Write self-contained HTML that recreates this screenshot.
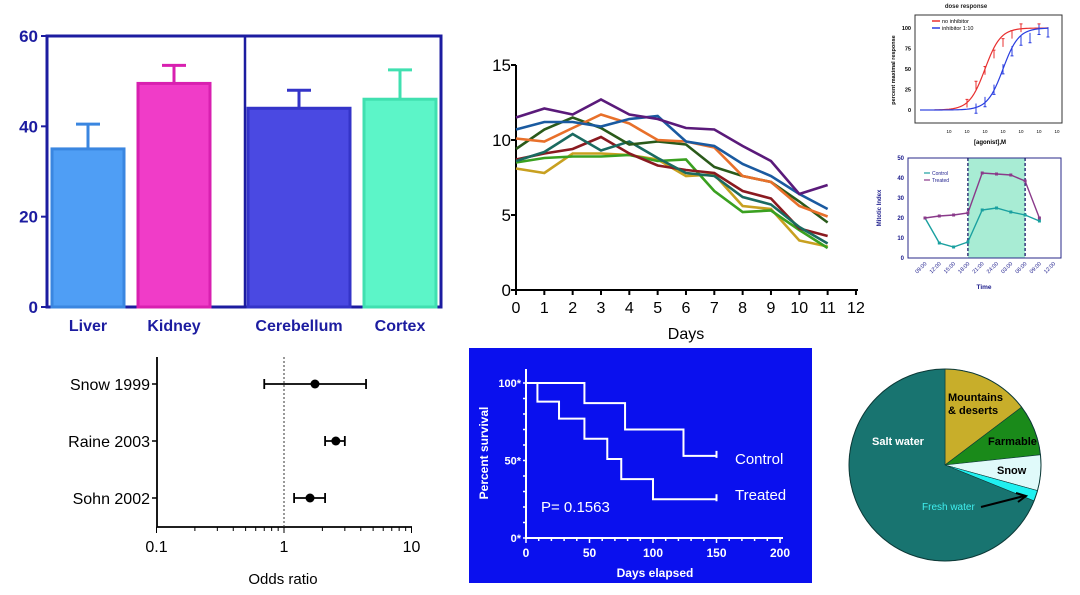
<!DOCTYPE html>
<html><head><meta charset="utf-8"><style>
html,body{margin:0;padding:0;background:#fff;}
svg{display:block;font-family:"Liberation Sans",Arial,sans-serif;}
</style></head><body>
<svg id="s" width="1080" height="595" viewBox="0 0 1080 595">
<rect width="1080" height="595" fill="#fff"/>

<g id="bar">
<rect x="47" y="36" width="394" height="271" fill="none" stroke="#1c1ca0" stroke-width="3"/>
<line x1="245" y1="36" x2="245" y2="307" stroke="#1c1ca0" stroke-width="2.5"/>
</g>

<g id="line">
<text x="686" y="339" font-size="16" text-anchor="middle">Days</text>
</g>

<g id="dose">
<text x="966" y="8" font-size="6" font-weight="bold" text-anchor="middle" fill="#222">dose response</text>
<rect x="915" y="15" width="147" height="108" fill="none" stroke="#333" stroke-width="1"/>
<text x="895" y="70" font-size="5.5" font-weight="bold" text-anchor="middle" transform="rotate(-90 895 70)">percent maximal response</text>
<text x="990" y="144" font-size="6" font-weight="bold" text-anchor="middle">[agonist],M</text>
<line x1="932" y1="21" x2="940" y2="21" stroke="#e83030" stroke-width="1.5"/>
<text x="942" y="23" font-size="5.5">no inhibitor</text>
<line x1="932" y1="28" x2="940" y2="28" stroke="#2a3ee0" stroke-width="1.5"/>
<text x="942" y="30" font-size="5.5">inhibitor 1:10</text>
</g>

<g id="mito">
<text x="881" y="208" font-size="6" font-weight="bold" fill="#1c1c8c" text-anchor="middle" transform="rotate(-90 881 208)">Mitotic Index</text>
<text x="984" y="289" font-size="6.5" font-weight="bold" fill="#1c1c8c" text-anchor="middle">Time</text>
</g>

<g id="forest">
<text x="283" y="584" font-size="15" text-anchor="middle">Odds ratio</text>
</g>

<g id="surv">
<rect x="469" y="348" width="343" height="235" fill="#0a10ee"/>
<text x="488" y="453" font-size="12" font-weight="bold" fill="#fff" text-anchor="middle" transform="rotate(-90 488 453)">Percent survival</text>
<text x="655" y="577" font-size="12" font-weight="bold" fill="#fff" text-anchor="middle">Days elapsed</text>
<text x="735" y="464" font-size="15" fill="#fff">Control</text>
<text x="735" y="500" font-size="15" fill="#fff">Treated</text>
<text x="541" y="512" font-size="15" fill="#fff">P= 0.1563</text>
</g>

<g id="pie"></g>
</svg>
<script>
const barCats=["Liver","Kidney","Cerebellum","Cortex"];
const barVals=[35,49.5,44,46];
const barErr=[5.5,4,4,6.5];
const barTicks=[0,20,40,60];

const lineDays=[0,1,2,3,4,5,6,7,8,9,10,11];
const lineTicksX=[0,1,2,3,4,5,6,7,8,9,10,11,12];
const lineTicksY=[0,5,10,15];
const sPurple=[11.5,12.1,11.7,12.7,11.7,11.4,10.8,10.7,9.6,8.6,6.4,7.0];
const sBlue=[10.7,11.2,11.2,10.9,11.4,11.6,9.9,9.6,8.4,7.6,6.4,5.4];
const sOrange=[10.1,9.9,10.8,11.7,11.1,10.0,9.9,9.5,7.6,7.2,5.6,4.9];
const sDkGreen=[9.4,10.7,11.5,10.8,9.7,9.9,9.7,8.2,7.6,7.2,5.9,4.5];
const sTeal=[8.6,9.2,10.4,9.3,9.9,8.8,7.8,7.6,6.2,5.7,4.2,3.1];
const sDkRed=[8.7,9.1,9.4,10.2,9.1,8.3,8.0,7.8,6.6,6.1,4.1,3.6];
const sGreen=[8.5,8.8,8.9,8.9,9.0,8.6,8.7,6.6,5.2,5.3,4.0,2.8];
const sGold=[8.1,7.8,9.1,9.1,9.0,8.7,7.6,7.7,5.6,5.4,3.3,2.9];

const doseLogX=[-8,-7.5,-7,-6.5,-6,-5.5,-5,-4];
const doseRed=[8,30,48,68,82,92,100,100];
const doseBlueX=[-7.5,-7,-6.5,-6,-5.5,-5,-4.5,-4,-3.5];
const doseBlue=[2,10,25,50,72,85,88,98,95];
const doseEC50=[-7.0,-6.0];

const mitoTimes=["09:00","12:00","15:00","18:00","21:00","24:00","03:00","06:00","09:00","12:00"];
const mitoControl=[20,7.5,5.5,8,24,25,23,21.5,18.5];
const mitoTreated=[20,21,21.5,22.5,42.5,42,41.5,38.5,20];
const mitoTicks=[0,10,20,30,40,50];

const forestStudies=["Snow 1999","Raine 2003","Sohn 2002"];
const forestOR=[1.75,2.55,1.6];
const forestLo=[0.7,2.1,1.2];
const forestHi=[4.4,3.0,2.1];
const forestTicks=[0.1,1,10];

const survTimesC=[0,46,78,124,150];
const survC=[100,87,70,53,53];
const survTimesT=[0,9,26,46,64,75,100,150];
const survT=[100,88,77,64,51,38,25,25];
const survTicksX=[0,50,100,150,200];
const survTicksY=[0,50,100];

const pieLabels=["Mountains & deserts","Farmable","Snow","Fresh water","Salt water"];
const pieVals=[14.7,8.6,6.0,1.8,68.9];

const NS="http://www.w3.org/2000/svg";
function mk(parent,tag,attrs,txt){const e=document.createElementNS(NS,tag);for(const k in attrs)e.setAttribute(k,attrs[k]);if(txt!==undefined)e.textContent=txt;document.getElementById(parent).appendChild(e);return e;}
let e;

{
const y=v=>307-v*(271/60);
const xs=[52,138,248,364], ws=[72,72,102,72];
const fills=["#4f9ef5","#f03cc8","#4a49e2","#5cf5c8"], strokes=["#3a86e0","#d820b0","#3434c8","#40e0b0"];
barTicks.forEach(t=>{
 e=mk("bar","text",{x:38,y:y(t)+6,"font-size":17,"font-weight":"bold",fill:"#1c1ca0","text-anchor":"end"},t);
 
 
 e=mk("bar","line",{x1:41,x2:47,y1:y(t),y2:y(t),stroke:"#1c1ca0","stroke-width":2});
 
 
});
barCats.forEach((c,i)=>{
 const cx=xs[i]+ws[i]/2;
 e=mk("bar","line",{x1:cx,x2:cx,y1:y(barVals[i]),y2:y(barVals[i]+barErr[i]),stroke:strokes[i],"stroke-width":3});
 
 
 e=mk("bar","line",{x1:cx-12,x2:cx+12,y1:y(barVals[i]+barErr[i]),y2:y(barVals[i]+barErr[i]),stroke:strokes[i],"stroke-width":3});
 
 
 e=mk("bar","rect",{x:xs[i],y:y(barVals[i]),width:ws[i],height:307-y(barVals[i]),fill:fills[i],stroke:strokes[i],"stroke-width":3});
 
 
 e=mk("bar","text",{x:cx,y:331,"font-size":16,"font-weight":"bold",fill:"#1c1ca0","text-anchor":"middle"},c);
 
 
});
}

{
const x=d=>516+d*28.33, y=v=>290-v*15;
e=mk("line","path",{d:`M516,65V290H858`,fill:"none",stroke:"#000","stroke-width":2});


lineTicksY.forEach(t=>{
 e=mk("line","line",{x1:511,x2:516,y1:y(t),y2:y(t),stroke:"#000","stroke-width":2});
 
 
 e=mk("line","text",{x:511,y:y(t)+6,"font-size":17,"text-anchor":"end"},t);
 
 
});
lineTicksX.forEach(t=>{
 e=mk("line","line",{x1:x(t),x2:x(t),y1:290,y2:295,stroke:"#000","stroke-width":2});
 
 
 e=mk("line","text",{x:x(t),y:313,"font-size":16,"text-anchor":"middle"},t);
 
 
});
const series=[[sGold,"#c8a020"],[sGreen,"#3aa020"],[sDkRed,"#8a1a20"],[sTeal,"#1a6a60"],[sDkGreen,"#2a5a1a"],[sOrange,"#e8702a"],[sBlue,"#1a5aa0"],[sPurple,"#5a1a7a"]];
series.forEach(([s,c],k)=>{
 e=mk("line","polyline",{points:s.map((v,i)=>x(lineDays[i])+","+y(v)).join(" "),fill:"none",stroke:c,"stroke-width":2.6});
 
 
});
}

{
const x=l=>949+(l+9)*18, y=v=>110-v*0.82;
[-9,-8,-7,-6,-5,-4,-3].forEach(l=>{
 e=mk("dose","text",{x:x(l),y:133,"font-size":4.5,"text-anchor":"middle"},"10");
 
 
});
[0,25,50,75,100].forEach(t=>{
 e=mk("dose","text",{x:911,y:y(t)+2,"font-size":5.5,"font-weight":"bold","text-anchor":"end"},t);
 
 
});
e=mk("dose","path",{d:`M920,${y(0)}H935`,stroke:"#2a3ee0","stroke-width":1.2});


const curve=(ec,c,nm)=>{let p=[];for(let l=-9.8;l<=-3.5;l+=0.1){p.push(x(l)+","+y(100/(1+Math.pow(10,ec-l))));}
 e=mk("dose","polyline",{points:p.join(" "),fill:"none",stroke:c,"stroke-width":1.2});
 
 
};
curve(doseEC50[0],"#e83030","dose-curve-no-inhibitor");
curve(doseEC50[1],"#2a3ee0","dose-curve-inhibitor");
doseLogX.forEach((l,i)=>{
 e=mk("dose","path",{d:`M${x(l)},${y(doseRed[i]-5)}V${y(doseRed[i]+5)}M${x(l)-1.5},${y(doseRed[i]+5)}h3`,stroke:"#e83030","stroke-width":1});
 
 
});
doseBlueX.forEach((l,i)=>{
 e=mk("dose","path",{d:`M${x(l)},${y(doseBlue[i]-6)}V${y(doseBlue[i]+6)}M${x(l)-1.5},${y(doseBlue[i]-6)}h3`,stroke:"#2a3ee0","stroke-width":1});
 
 
});
}

{
const x=i=>925+i*14.3, y=v=>258-v*2;
e=mk("mito","rect",{x:x(3),y:158,width:x(7)-x(3),height:100,fill:"#a8ecd4"});


e=mk("mito","rect",{x:908,y:158,width:153,height:100,fill:"none",stroke:"#2a2a8a","stroke-width":1});


[3,7].forEach(i=>{
 e=mk("mito","line",{x1:x(i),x2:x(i),y1:158,y2:258,stroke:"#1a1a6a","stroke-width":1.3,"stroke-dasharray":"3,2"});
 
 
});
mitoTicks.forEach(t=>{
 e=mk("mito","text",{x:904,y:y(t)+2,"font-size":6,"font-weight":"bold",fill:"#1c1c8c","text-anchor":"end"},t);
 
 
});
mitoTimes.forEach((t,i)=>{
 e=mk("mito","text",{x:x(i)+2,y:264,"font-size":5.5,fill:"#1c1c8c","text-anchor":"end",transform:`rotate(-45 ${x(i)+2} 264)`},t);
 
 
});
[[mitoControl,"#1aa0a0","control"],[mitoTreated,"#8a3a8a","treated"]].forEach(([s,c,n])=>{
 e=mk("mito","polyline",{points:s.map((v,i)=>x(i)+","+y(v)).join(" "),fill:"none",stroke:c,"stroke-width":1.4});
 
 
 s.forEach((v,i)=>{
  e=mk("mito","rect",{x:x(i)-1.5,y:y(v)-1.5,width:3,height:3,fill:c});
  
  
 });
});
[[173,"#1aa0a0","Control"],[180,"#8a3a8a","Treated"]].forEach(([b,c,t])=>{
 e=mk("mito","line",{x1:924,x2:930,y1:b,y2:b,stroke:c,"stroke-width":1.2});
 
 
 e=mk("mito","text",{x:932,y:b+2,"font-size":5,fill:"#1c1c8c"},t);
 
 
});
}

{
const x=v=>284+Math.log10(v)*127.5, rows=[384,441,498];
e=mk("forest","path",{d:"M157,357V527H412",fill:"none",stroke:"#000","stroke-width":1.8});


e=mk("forest","line",{x1:x(1),x2:x(1),y1:357,y2:527,stroke:"#333","stroke-width":1,"stroke-dasharray":"2,2"});


for(let d=0.1;d<10;d*=10){for(let k=1;k<=10;k++){const v=d*k;
 e=mk("forest","line",{x1:x(v),x2:x(v),y1:527,y2:k==1||k==10?533:531,stroke:"#000","stroke-width":1});
 
 }}
forestTicks.forEach(t=>{
 e=mk("forest","text",{x:x(t),y:552,"font-size":16,"text-anchor":"middle"},t);
 
 
});
forestStudies.forEach((s,i)=>{
 const r=rows[i];
 e=mk("forest","line",{x1:152,x2:157,y1:r,y2:r,stroke:"#000","stroke-width":1.5});
 
 
 e=mk("forest","text",{x:150,y:r+6,"font-size":16,"text-anchor":"end"},s);
 
 
 e=mk("forest","path",{d:`M${x(forestLo[i])},${r}H${x(forestHi[i])}M${x(forestLo[i])},${r-5}v10M${x(forestHi[i])},${r-5}v10`,stroke:"#000","stroke-width":1.8,fill:"none"});
 
 
 e=mk("forest","circle",{cx:x(forestOR[i]),cy:r,r:4.5,fill:"#000"});
 
 
});
}

{
const x=d=>526+d*1.27, y=v=>538-v*1.55;
e=mk("surv","path",{d:"M526,369V538H783",fill:"none",stroke:"#fff","stroke-width":2});


for(let d=0;d<=200;d+=10){
 e=mk("surv","line",{x1:x(d),x2:x(d),y1:538,y2:d%50?541:543,stroke:"#fff","stroke-width":1.5});
 
 }
for(let v=0;v<=100;v+=10){
 e=mk("surv","line",{x1:523,x2:526,y1:y(v),y2:y(v),stroke:"#fff","stroke-width":1.5});
 
 }
survTicksX.forEach(t=>{
 e=mk("surv","text",{x:x(t),y:557,"font-size":12,"font-weight":"bold",fill:"#fff","text-anchor":"middle"},t);
 
 
});
survTicksY.forEach(t=>{
 e=mk("surv","text",{x:521,y:y(t)+4,"font-size":11,"font-weight":"bold",fill:"#fff","text-anchor":"end"},t+"*");
 
 
});
const step=(ts,vs)=>{let d=`M${x(ts[0])},${y(vs[0])}`;for(let i=1;i<ts.length;i++){d+=`H${x(ts[i])}V${y(vs[i])}`;}return d+`M${x(ts[ts.length-1])},${y(vs[vs.length-1])-5}v7`;};
e=mk("surv","path",{d:step(survTimesC,survC),fill:"none",stroke:"#fff","stroke-width":2});


e=mk("surv","path",{d:step(survTimesT,survT),fill:"none",stroke:"#fff","stroke-width":2});


}

{
const cx=945,cy=465,R=96,cols=["#c8ae2a","#1a8a1a","#e0fafa","#20f0f0","#187470"];
const total=pieVals.reduce((a,b)=>a+b,0);let a0=-Math.PI/2;
pieVals.forEach((v,i)=>{
 const a1=a0+v/total*2*Math.PI, big=(a1-a0)>Math.PI?1:0;
 e=mk("pie","path",{d:`M${cx},${cy}L${cx+R*Math.cos(a0)},${cy+R*Math.sin(a0)}A${R},${R} 0 ${big} 1 ${cx+R*Math.cos(a1)},${cy+R*Math.sin(a1)}Z`,fill:cols[i],stroke:"#0d3a38","stroke-width":0.6});
 
 
 a0=a1;
});
e=mk("pie","circle",{cx:cx,cy:cy,r:R,fill:"none",stroke:"#0d3a38","stroke-width":1});


const L=[["Mountains",948,401,"#000"],["& deserts",948,414,"#000"],["Farmable",988,445,"#000"],["Snow",997,474,"#000"],["Salt water",872,445,"#fff"],["Fresh water",922,510,"#40f0f0"]];
L.forEach(([t,a,b,c])=>{
 e=mk("pie","text",{x:a,y:b,"font-size":t=="Fresh water"?10:11,"font-weight":t=="Fresh water"?"normal":"bold",fill:c},t);
 
 
});
e=mk("pie","path",{d:"M981,507L1024,496M1016,493L1026,496L1018,502",fill:"none",stroke:"#000","stroke-width":2});


}
</script>
</body></html>
